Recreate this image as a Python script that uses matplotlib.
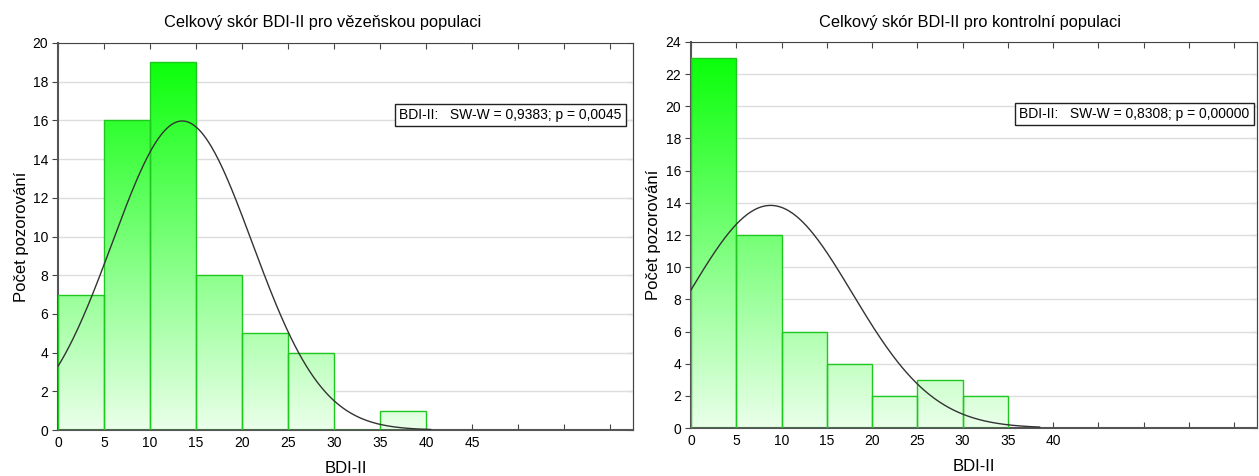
"""Histogramy BDI-II (vězni vs. kontrola) s proloženou normální křivkou."""
import numpy as np
import matplotlib as mpl
import matplotlib.pyplot as plt
from matplotlib.colors import LinearSegmentedColormap
from matplotlib.ticker import FixedLocator, FixedFormatter

mpl.rcParams["font.family"] = ["Liberation Sans", "DejaVu Sans"]

BIN_WIDTH = 5
PRISON_COUNTS = [7, 16, 19, 8, 5, 4, 0, 1]
CONTROL_COUNTS = [23, 12, 6, 4, 2, 3, 2]

# proložená normální křivka: střed, sm. odchylka, výška vrcholu, konec
PRISON_NORM = (13.5, 7.6, 15.97, 40.5)
CONTROL_NORM = (8.8, 9.0, 13.84, 38.5)

TITLES = ["Celkový skór BDI-II pro vězeňskou populaci",
          "Celkový skór BDI-II pro kontrolní populaci"]
SW_TEXT = ["BDI-II:   SW-W = 0,9383; p = 0,0045",
           "BDI-II:   SW-W = 0,8308; p = 0,00000"]
YMAX = [20, 24]
XTICK_LAST_LABEL = [45, 40]
XMAX = 62.5

EDGE = "#1EC81E"
GREEN = LinearSegmentedColormap.from_list("g", ["#EAFFEA", "#00FF00"])

fig = plt.figure(figsize=(12.59, 4.76), dpi=100)
axes = [fig.add_axes([0.0461, 0.0966, 0.4567, 0.8131]),
        fig.add_axes([0.5488, 0.1008, 0.4496, 0.8110])]
title_x = [323 / 1259, 970 / 1259]

for i, (ax, counts, norm) in enumerate(zip(axes, [PRISON_COUNTS, CONTROL_COUNTS],
                                           [PRISON_NORM, CONTROL_NORM])):
    ymax = YMAX[i]
    edges = np.arange(len(counts)) * BIN_WIDTH
    bars = ax.bar(edges, counts, width=BIN_WIDTH, align="edge",
                  facecolor="none", edgecolor=EDGE, lw=1.0, zorder=3)

    grad = np.linspace(0, 1, 256).reshape(-1, 1)
    for b, c in zip(bars, counts):
        if c == 0:
            continue
        im = ax.imshow(grad, cmap=GREEN, extent=[0, XMAX, 0, ymax],
                       origin="lower", aspect="auto", zorder=2,
                       interpolation="bilinear")
        im.set_clip_path(b)

    mu, sd, peak, xend = norm
    xs = np.linspace(0, xend, 300)
    ax.plot(xs, peak * np.exp(-(xs - mu) ** 2 / (2 * sd ** 2)),
            color="#333333", lw=1.0, zorder=4)

    ax.set_xlim(0, XMAX)
    ax.set_ylim(0, ymax)
    ax.set_yticks(np.arange(0, ymax + 1, 2))
    ax.yaxis.grid(True, color="#DDDDDD", lw=1.0)
    ax.set_axisbelow(True)

    xt = np.arange(0, 61, 5)
    ax.xaxis.set_major_locator(FixedLocator(xt))
    ax.xaxis.set_major_formatter(FixedFormatter(
        [str(v) if v <= XTICK_LAST_LABEL[i] else "" for v in xt]))

    ax.tick_params(axis="y", direction="out", length=4, width=0.8,
                   labelsize=10, pad=3, color="#444444")
    ax.tick_params(axis="x", direction="in", length=4, width=0.8,
                   labelsize=10, pad=4, color="#444444", top=True)

    # pravá osa: značky dovnitř, bez popisků
    sec = ax.secondary_yaxis("right")
    sec.set_yticks(np.arange(0, ymax + 1, 2))
    sec.tick_params(direction="in", length=4, width=0.8, labelright=False,
                    color="#444444")
    sec.spines["right"].set_color("#444444")

    for s in ["top", "right"]:
        ax.spines[s].set_color("#444444")
        ax.spines[s].set_linewidth(0.8)
    for s in ["left", "bottom"]:
        ax.spines[s].set_color("#555555")
        ax.spines[s].set_linewidth(1.5)

    ax.set_xlabel("BDI-II", fontsize=12, labelpad=8)
    ax.set_ylabel("Počet pozorování", fontsize=12, labelpad=3)
    fig.text(title_x[i], 1 - 22 / 476, TITLES[i], ha="center", va="center",
             fontsize=11.8)

    ax.text(0.98 if i == 0 else 0.987, 0.814, SW_TEXT[i], transform=ax.transAxes,
            ha="right", va="center", fontsize=10, zorder=6,
            bbox=dict(boxstyle="square,pad=0.3", fc="white", ec="#222222", lw=1.0))

fig.savefig("out.png", dpi=100)
